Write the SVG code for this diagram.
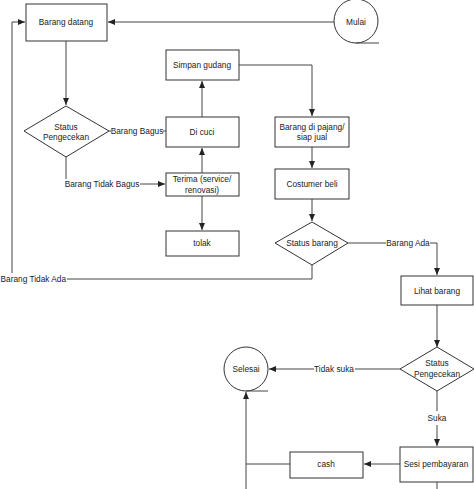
<svg xmlns="http://www.w3.org/2000/svg" width="474" height="489" viewBox="0 0 474 489">
<style>
.n{fill:#fff;stroke:#333;stroke-width:1}
.t{font-family:"Liberation Sans",Arial,sans-serif;font-size:8.3px;fill:#222;text-anchor:middle;dominant-baseline:central}
.c{fill:none;stroke:#444;stroke-width:1}
.a{marker-end:url(#ah)}
</style>
<defs>
<marker id="ah" markerWidth="8" markerHeight="8" refX="7" refY="4" orient="auto" markerUnits="userSpaceOnUse">
<path d="M0,1 L7,4 L0,7 Z" fill="#222"/>
</marker>
</defs>
<rect width="474" height="489" fill="#fff"/>
<g id="connectors">
<path class="c a" d="M334,22 H108"/>
<path class="c a" d="M66,41 V105"/>
<path class="c" d="M109,131 H111"/>
<path class="c" d="M163,131 H166"/>
<path class="c a" d="M202,117 V81"/>
<path class="c a" d="M202,173 V148"/>
<path class="c a" d="M202,196 V230"/>
<path class="c" d="M66,157 V179"/>
<path class="c a" d="M140,184 H165"/>
<path class="c a" d="M239,65 H312 V116"/>
<path class="c a" d="M312,147 V168"/>
<path class="c a" d="M312,199 V221"/>
<path class="c" d="M312,265 V279 H67"/>
<path class="c a" d="M12,273 V22 H25"/>
<path class="c" d="M348,243 H386"/>
<path class="c a" d="M430,243 H437 V275"/>
<path class="c a" d="M437,305 V347"/>
<path class="c" d="M400,369 H355"/>
<path class="c a" d="M314,369 H269"/>
<path class="c" d="M437,391 V411"/>
<path class="c a" d="M437,425 V446"/>
<path class="c a" d="M400,464 H364"/>
<path class="c a" d="M290,464 H246 V392"/>
<path class="c" d="M246,464 V489"/>
<path class="c" d="M437,482 V489"/>
<text class="t" x="137" y="131">Barang Bagus</text>
<text class="t" x="102" y="184">Barang Tidak Bagus</text>
<text class="t" x="0.5" y="279" style="text-anchor:start">Barang Tidak Ada</text>
<text class="t" x="408" y="243">Barang Ada</text>
<text class="t" x="334" y="369">Tidak suka</text>
<text class="t" x="437" y="418">Suka</text>
</g>
<g id="mulai">
<circle class="n" cx="356" cy="21" r="22"/>
<path class="c" d="M356,43 H379"/>
<text class="t" x="356" y="22">Mulai</text>
</g>
<g id="barang-datang">
<rect class="n" x="26" y="4" width="81" height="37"/>
<text class="t" x="66" y="22">Barang datang</text>
</g>
<g id="status-pengecekan-1">
<polygon class="n" points="66,106 109,131 66,157 24,131"/>
<text class="t" x="66" y="127">Status</text>
<text class="t" x="66" y="137">Pengecekan</text>
</g>
<g id="simpan-gudang">
<rect class="n" x="166" y="50" width="73" height="30"/>
<text class="t" x="202" y="65">Simpan gudang</text>
</g>
<g id="di-cuci">
<rect class="n" x="166" y="117" width="73" height="30"/>
<text class="t" x="202" y="132">Di cuci</text>
</g>
<g id="terima">
<rect class="n" x="166" y="173" width="73" height="23"/>
<text class="t" x="202" y="179">Terima (service/</text>
<text class="t" x="202" y="190">renovasi)</text>
</g>
<g id="tolak">
<rect class="n" x="166" y="231" width="73" height="25"/>
<text class="t" x="202" y="243">tolak</text>
</g>
<g id="barang-di-pajang">
<rect class="n" x="275" y="117" width="74" height="30"/>
<text class="t" x="312" y="127">Barang di pajang/</text>
<text class="t" x="312" y="137">siap jual</text>
</g>
<g id="costumer-beli">
<rect class="n" x="275" y="169" width="74" height="30"/>
<text class="t" x="312" y="184">Costumer beli</text>
</g>
<g id="status-barang">
<polygon class="n" points="312,222 348,243 312,265 275,243"/>
<text class="t" x="312" y="243">Status barang</text>
</g>
<g id="lihat-barang">
<rect class="n" x="401" y="276" width="72" height="29"/>
<text class="t" x="437" y="291">Lihat barang</text>
</g>
<g id="status-pengecekan-2">
<polygon class="n" points="437,347 474,369 437,391 400,369"/>
<text class="t" x="437" y="363">Status</text>
<text class="t" x="437" y="374">Pengecekan</text>
</g>
<g id="selesai">
<circle class="n" cx="246" cy="369" r="22"/>
<path class="c" d="M246,391 H268"/>
<text class="t" x="246" y="369">Selesai</text>
</g>
<g id="sesi-pembayaran">
<rect class="n" x="400" y="447" width="73" height="35"/>
<text class="t" x="436" y="464">Sesi pembayaran</text>
</g>
<g id="cash">
<rect class="n" x="290" y="452" width="73" height="26"/>
<text class="t" x="326" y="464">cash</text>
</g>
</svg>
